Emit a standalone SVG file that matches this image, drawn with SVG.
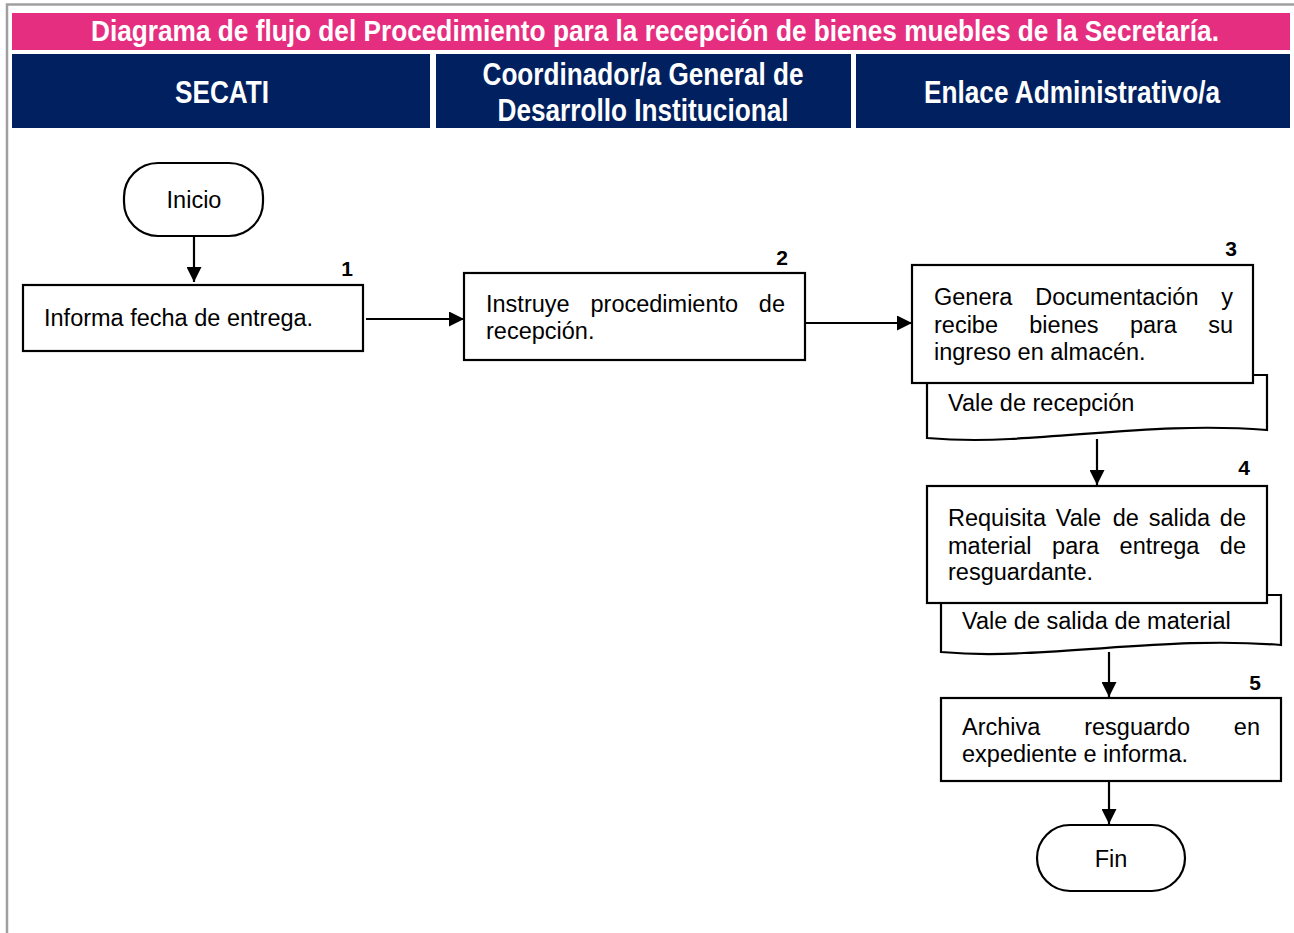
<svg xmlns="http://www.w3.org/2000/svg" width="1294" height="933" viewBox="0 0 1294 933">
<defs>
<style>
.frame{fill:none;stroke:#a0a0a0;stroke-width:2.5}
.title{fill:#e62e80}
.lane{fill:#00205f}
.ht{font-family:"Liberation Sans",Arial,sans-serif;font-weight:bold;fill:#ffffff;text-anchor:middle}
.box{fill:#ffffff;stroke:#000000;stroke-width:2.2}
.t{font-family:"Liberation Sans",Arial,sans-serif;font-size:23.5px;fill:#000000}
.e{text-anchor:end}
.m{text-anchor:middle}
.n{font-family:"Liberation Sans",Arial,sans-serif;font-size:21px;font-weight:bold;fill:#000000;text-anchor:middle}
.c{fill:none;stroke:#000000;stroke-width:2.2}
</style>
<marker id="a" viewBox="0 0 15 15" refX="15" refY="7.5" markerWidth="15" markerHeight="15" markerUnits="userSpaceOnUse" orient="auto">
<path d="M0,0 L15,7.5 L0,15 Z" fill="#000000"/>
</marker>
</defs>
<rect x="0" y="0" width="1294" height="933" fill="#ffffff"/>
<path class="frame" d="M7,933 V4.5 H1294"/>
<g id="header">
<rect class="title" x="12" y="13" width="1278" height="37"/>
<text class="ht" transform="scale(0.8,1)" x="818.75" y="41" font-size="29" textLength="1410" lengthAdjust="spacingAndGlyphs">Diagrama de flujo del Procedimiento para la recepción de bienes muebles de la Secretaría.</text>
<rect class="lane" x="12" y="54" width="418" height="74"/>
<rect class="lane" x="436" y="54" width="415" height="74"/>
<rect class="lane" x="856" y="54" width="434" height="74"/>
<text class="ht" x="222" y="103" font-size="31" textLength="94" lengthAdjust="spacingAndGlyphs">SECATI</text>
<text class="ht" x="643" y="85" font-size="31" textLength="321" lengthAdjust="spacingAndGlyphs">Coordinador/a General de</text>
<text class="ht" x="643" y="121" font-size="31" textLength="291" lengthAdjust="spacingAndGlyphs">Desarrollo Institucional</text>
<text class="ht" x="1072" y="103" font-size="31" textLength="296" lengthAdjust="spacingAndGlyphs">Enlace Administrativo/a</text>
</g>
<g id="connectors">
<line class="c" x1="194" y1="236" x2="194" y2="282" marker-end="url(#a)"/>
<line class="c" x1="366" y1="319" x2="464" y2="319" marker-end="url(#a)"/>
<line class="c" x1="805" y1="323" x2="912" y2="323" marker-end="url(#a)"/>
<line class="c" x1="1097" y1="439" x2="1097" y2="485" marker-end="url(#a)"/>
<line class="c" x1="1109" y1="652" x2="1109" y2="697" marker-end="url(#a)"/>
<line class="c" x1="1109" y1="781" x2="1109" y2="824" marker-end="url(#a)"/>
</g>
<g id="inicio">
<rect class="box" x="124" y="163" width="139" height="73" rx="34" ry="34"/>
<text class="t m" x="194" y="208">Inicio</text>
</g>
<g id="step1">
<rect class="box" x="23" y="285" width="340" height="66"/>
<text class="n" x="347" y="276">1</text>
<text class="t" x="44" y="326">Informa fecha de entrega.</text>
</g>
<g id="step2">
<rect class="box" x="464" y="273" width="341" height="87"/>
<text class="n" x="782" y="265">2</text>
<text class="t" y="312"><tspan x="486">Instruye</tspan><tspan x="590.5">procedimiento</tspan></text>
<text class="t e" x="785" y="312">de</text>
<text class="t" x="486" y="339">recepción.</text>
</g>
<g id="doc3">
<path class="box" d="M927,375 H1267 V430 C1180,423 1100,434 1010,439 C975,441 950,440 927,438 Z"/>
<text class="t" x="948" y="411">Vale de recepción</text>
</g>
<g id="step3">
<rect class="box" x="912" y="265" width="341" height="118"/>
<text class="n" x="1231" y="256">3</text>
<text class="t" y="305"><tspan x="934">Genera</tspan><tspan x="1035.2">Documentación</tspan></text>
<text class="t e" x="1233" y="305">y</text>
<text class="t" y="333"><tspan x="934">recibe</tspan><tspan x="1029.3">bienes</tspan><tspan x="1129.9">para</tspan></text>
<text class="t e" x="1233" y="333">su</text>
<text class="t" x="934" y="360">ingreso en almacén.</text>
</g>
<g id="doc4">
<path class="box" d="M941,595 H1281 V645 C1194,638 1114,649 1024,653 C989,655 964,654 941,652 Z"/>
<text class="t" x="962" y="629">Vale de salida de material</text>
</g>
<g id="step4">
<rect class="box" x="927" y="486" width="340" height="117"/>
<text class="n" x="1244" y="475">4</text>
<text class="t" y="526"><tspan x="948">Requisita</tspan><tspan x="1055.8">Vale</tspan><tspan x="1112.7">de</tspan><tspan x="1148.7">salida</tspan></text>
<text class="t e" x="1246" y="526">de</text>
<text class="t" y="554"><tspan x="948">material</tspan><tspan x="1052.1">para</tspan><tspan x="1119.6">entrega</tspan></text>
<text class="t e" x="1246" y="554">de</text>
<text class="t" x="948" y="580">resguardante.</text>
</g>
<g id="step5">
<rect class="box" x="941" y="698" width="340" height="83"/>
<text class="n" x="1255" y="690">5</text>
<text class="t" y="735"><tspan x="962">Archiva</tspan><tspan x="1084.2">resguardo</tspan></text>
<text class="t e" x="1260" y="735">en</text>
<text class="t" x="962" y="762">expediente e informa.</text>
</g>
<g id="fin">
<rect class="box" x="1037" y="825" width="148" height="66" rx="33" ry="33"/>
<text class="t m" x="1111" y="867">Fin</text>
</g>
</svg>
